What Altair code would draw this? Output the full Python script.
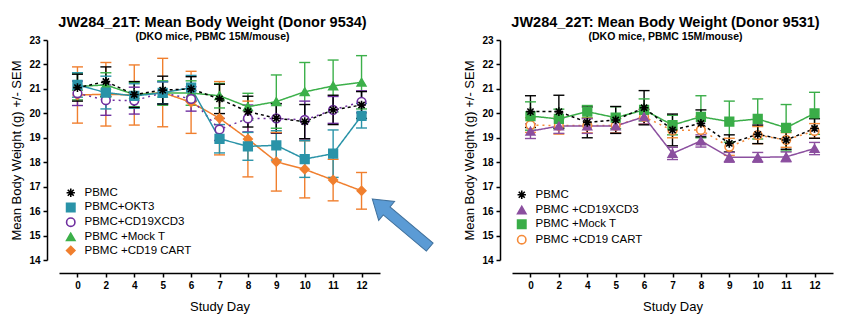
import altair as alt
import pandas as pd

days = ["0", "2", "4", "5", "6", "7", "8", "9", "10", "11", "12"]

# Left panel (Donor 9534)
left_series = ["PBMC", "PBMC+OKT3", "PBMC+CD19XCD3", "PBMC +Mock T", "PBMC +CD19 CART"]
l_pbmc_mean = [21.05, 21.3, 20.77, 20.95, 21.0, 20.59, 20.07, 19.8, 19.66, 20.14, 20.34]
l_pbmc_sem = [0.55, 0.6, 0.53, 0.57, 0.5, 0.6, 0.63, 0.6, 0.7, 0.6, 0.55]
l_okt3_mean = [21.16, 20.85, 20.71, 20.84, 21.05, 18.96, 18.65, 18.69, 18.13, 18.35, 19.9]
l_okt3_sem = [0.5, 0.67, 0.5, 0.45, 0.5, 0.58, 0.57, 0.6, 0.75, 0.97, 0.5]
l_cd19xcd3_mean = [20.82, 20.54, 20.52, 20.84, 20.59, 19.34, 19.79, 19.79, 19.73, 20.14, 20.47]
l_cd19xcd3_sem = [0.5, 0.62, 0.55, 0.45, 0.5, 0.45, 0.55, 0.6, 0.77, 0.55, 0.45]
l_mock_mean = [21.1, 21.16, 20.77, 20.83, 20.83, 20.72, 20.27, 20.48, 20.88, 21.12, 21.27]
l_mock_sem = [0.55, 0.5, 0.5, 0.5, 0.5, 0.5, 0.55, 1.09, 1.2, 1.06, 1.09]
l_cart_mean = [20.75, 20.78, 20.75, 20.85, 20.45, 19.8, 18.95, 18.02, 17.71, 17.27, 16.83]
l_cart_sem = [1.15, 1.3, 1.23, 1.4, 1.27, 1.5, 1.55, 1.2, 1.17, 0.85, 0.75]

# Right panel (Donor 9531)
right_series = ["PBMC", "PBMC +CD19XCD3", "PBMC +Mock T", "PBMC +CD19 CART"]
r_pbmc_mean = [20.07, 20.07, 19.63, 19.73, 20.23, 19.32, 19.59, 18.77, 19.14, 18.91, 19.38]
r_pbmc_sem = [0.65, 0.67, 0.63, 0.55, 0.7, 0.65, 0.55, 0.35, 0.38, 0.38, 0.4]
r_cd19xcd3_mean = [19.27, 19.48, 19.48, 19.48, 19.86, 18.36, 18.87, 18.2, 18.2, 18.22, 18.56]
r_cd19xcd3_sem = [0.3, 0.3, 0.3, 0.3, 0.3, 0.25, 0.25, 0.2, 0.2, 0.2, 0.25]
r_mock_mean = [19.89, 19.77, 20.07, 19.82, 20.14, 19.52, 19.86, 19.66, 19.77, 19.41, 20.0]
r_mock_sem = [0.58, 0.4, 0.25, 0.45, 0.45, 0.4, 0.86, 0.84, 0.82, 0.95, 0.86]
r_cart_mean = [19.52, 19.5, 19.5, 19.5, 19.86, 19.3, 19.32, 18.63, 19.11, 18.91, 19.28]
r_cart_sem = [0.3, 0.35, 0.3, 0.3, 0.3, 0.3, 0.55, 0.35, 0.35, 0.3, 0.3]

STAR = "M0,-1L0,1M-1,0L1,0M-0.72,-0.72L0.72,0.72M-0.72,0.72L0.72,-0.72"
ARROW = "M0,-1L0.33,-0.5L0.14,-0.5L0.14,1L-0.14,1L-0.14,-0.5L-0.33,-0.5Z"
FONT = "Arial"


def make_df(series, means, sems):
    rows = []
    for k, (s, m, e) in enumerate(zip(series, means, sems)):
        for d, mv, ev in zip(days, m, e):
            rows.append({"day": d, "series": s, "mean": mv, "lo": mv - ev,
                         "hi": mv + ev, "order": len(series) - k})
    return pd.DataFrame(rows).sort_values("order")


def panel(df, series, colors, fills, shapes, dashes, title, legend_x, legend_y,
          row_pad, extra=None):
    x = alt.X("day:O", sort=days, title="Study Day",
              scale=alt.Scale(type="point", padding=0.65),
              axis=alt.Axis(labelAngle=0, offset=13, titlePadding=10, labelPadding=3))
    yscale = alt.Scale(domain=[14, 23], nice=False, zero=False)
    yaxis = alt.Axis(values=list(range(14, 24)), offset=12, titlePadding=5, labelPadding=3,
                     title="Mean Body Weight (g) +/- SEM")
    # a dummy extra domain entry keeps these (legend-less) scales from merging
    # with the legend scales below
    col_scale = alt.Scale(domain=series + ["~"], range=colors + ["#000000"])
    dash_scale = alt.Scale(domain=series + ["~"], range=dashes + [[1, 0]])
    base = alt.Chart(df).encode(x=x)
    rules = base.mark_rule(strokeWidth=1.4).encode(
        y=alt.Y("lo:Q", scale=yscale, axis=yaxis), y2="hi:Q",
        color=alt.Color("series:N", scale=col_scale, legend=None))
    cap_lo = base.mark_tick(thickness=1.4, size=11, opacity=1).encode(
        y=alt.Y("lo:Q", scale=yscale, axis=yaxis),
        color=alt.Color("series:N", scale=col_scale, legend=None))
    cap_hi = base.mark_tick(thickness=1.4, size=11, opacity=1).encode(
        y=alt.Y("hi:Q", scale=yscale, axis=yaxis),
        color=alt.Color("series:N", scale=col_scale, legend=None))
    lines = base.mark_line(strokeWidth=1.5).encode(
        y=alt.Y("mean:Q", scale=yscale, axis=yaxis),
        color=alt.Color("series:N", scale=col_scale, legend=None),
        strokeDash=alt.StrokeDash("series:N", scale=dash_scale, legend=None))
    legend = alt.Legend(title=None, orient="none", legendX=legend_x, legendY=legend_y,
                        labelFont=FONT, labelFontSize=11.5, labelColor="black",
                        symbolSize=70, symbolStrokeWidth=1.6, rowPadding=row_pad,
                        labelOffset=8, padding=0)
    pts = base.mark_point(strokeWidth=1.6, fillOpacity=1, opacity=1, size=75).encode(
        y=alt.Y("mean:Q", scale=yscale, axis=yaxis),
        stroke=alt.Stroke("series:N", scale=alt.Scale(domain=series, range=colors), legend=legend),
        fill=alt.Fill("series:N", scale=alt.Scale(domain=series, range=fills), legend=legend),
        shape=alt.Shape("series:N", scale=alt.Scale(domain=series, range=shapes), legend=legend),
        order=alt.Order("order:Q"))
    layers = [rules, cap_lo, cap_hi, lines, pts]
    if extra is not None:
        layers.append(extra)
    return alt.layer(*layers).properties(
        width=321, height=220,
        title=alt.TitleParams(title, subtitle="(DKO mice, PBMC 15M/mouse)", font=FONT,
                              fontSize=14.5, fontWeight="bold", subtitleFont=FONT,
                              subtitleFontSize=10.5, subtitleFontWeight="bold",
                              subtitleColor="black", color="black", anchor="middle",
                              dx=-7, offset=-8, subtitlePadding=1))


ldf = make_df(left_series,
              [l_pbmc_mean, l_okt3_mean, l_cd19xcd3_mean, l_mock_mean, l_cart_mean],
              [l_pbmc_sem, l_okt3_sem, l_cd19xcd3_sem, l_mock_sem, l_cart_sem])
rdf = make_df(right_series,
              [r_pbmc_mean, r_cd19xcd3_mean, r_mock_mean, r_cart_mean],
              [r_pbmc_sem, r_cd19xcd3_sem, r_mock_sem, r_cart_sem])

arrow = alt.Chart(pd.DataFrame({"a": [0]})).mark_point(
    shape=ARROW, size=5625, angle=310, filled=True, fill="#5b9bd5",
    stroke="#41719c", strokeWidth=1, opacity=1, fillOpacity=1).encode(
    x=alt.value(342), y=alt.value(183))

left = panel(ldf, left_series,
             ["#000000", "#2a93a8", "#6f2f9f", "#3cb04a", "#f07f2e"],
             ["#000000", "#2a93a8", "#ffffff", "#3cb04a", "#f07f2e"],
             [STAR, "square", "circle", "triangle-up", "diamond"],
             [[3, 3], [1, 0], [2, 4], [1, 0], [1, 0]],
             "JW284_21T: Mean Body Weight (Donor 9534)", 6, 147, -1.3, extra=arrow)
right = panel(rdf, right_series,
              ["#000000", "#8b4f9f", "#3aad48", "#f58b3a"],
              ["#000000", "#8b4f9f", "#3aad48", "#ffffff"],
              [STAR, "triangle-up", "square", "circle"],
              [[3, 3], [1, 0], [1, 0], [2, 4]],
              "JW284_22T: Mean Body Weight (Donor 9531)", 4, 149, -0.7)

chart = alt.hconcat(left, right, spacing=27).resolve_scale(
    stroke="independent", fill="independent", shape="independent",
    strokeDash="independent", color="independent").resolve_legend(
    stroke="independent", fill="independent", shape="independent").configure(
    padding={"left": 10, "top": 15, "right": 5, "bottom": 2},
    background="white").configure_view(stroke=None).configure_axis(
    labelFont=FONT, labelFontSize=10, labelFontWeight="bold", labelColor="black",
    titleFont=FONT, titleFontSize=13, titleFontWeight="normal", titleColor="black",
    domainColor="black", domainWidth=1.5, tickColor="black", tickWidth=1.5, tickSize=4,
    grid=False)

chart.save("out.html", embed_options={"renderer": "svg", "actions": False})
